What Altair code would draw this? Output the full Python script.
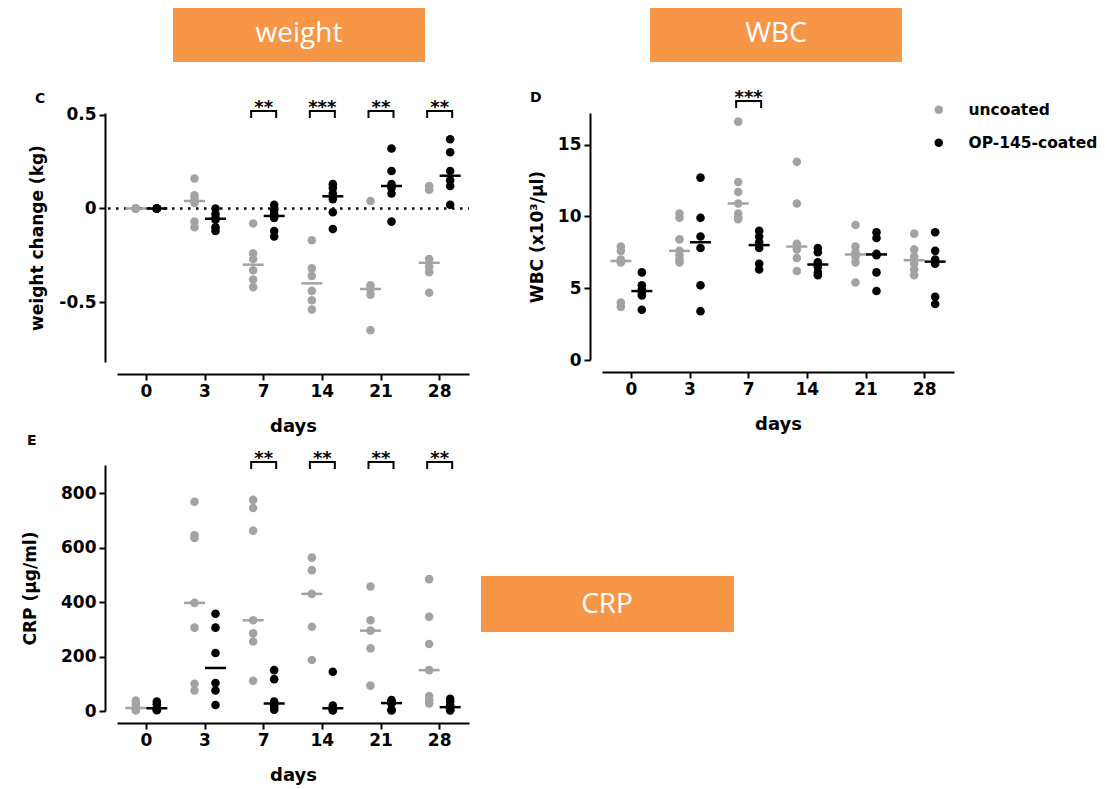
import altair as alt
import pandas as pd

FONT = "DejaVu Sans"
BOX_FONT = "Open Sans"

days = ["0", "3", "7", "14", "21", "28"]
groups = ["uncoated", "OP-145-coated"]
group_colors = ["#a3a3a3", "#000000"]
box_labels = ["weight", "WBC", "CRP"]
panel_letters = ["C", "D", "E"]

weight_uncoated = [
    [0, 0, 0, 0, 0, 0],
    [0.16, 0.07, 0.05, 0.03, -0.07, -0.10],
    [-0.08, -0.24, -0.27, -0.33, -0.38, -0.42],
    [-0.17, -0.32, -0.36, -0.44, -0.49, -0.54],
    [0.04, -0.41, -0.43, -0.46, -0.65],
    [0.12, 0.10, -0.27, -0.31, -0.34, -0.45],
]
weight_coated = [
    [0, 0, 0, 0, 0, 0],
    [0.0, -0.03, -0.05, -0.06, -0.10, -0.12],
    [0.02, -0.01, -0.03, -0.05, -0.12, -0.15],
    [0.13, 0.11, 0.08, 0.05, -0.02, -0.11],
    [0.32, 0.20, 0.13, 0.11, 0.08, -0.07],
    [0.37, 0.30, 0.20, 0.15, 0.12, 0.02],
]
wbc_uncoated = [
    [7.9, 7.6, 7.0, 6.8, 4.0, 3.7],
    [10.2, 9.9, 8.4, 7.6, 7.3, 7.0, 6.8],
    [16.6, 12.4, 11.7, 10.9, 10.2, 9.9, 9.8],
    [13.8, 10.9, 8.1, 7.7, 7.1, 6.2],
    [9.4, 7.9, 7.5, 7.2, 6.8, 5.4],
    [8.8, 7.7, 7.2, 6.7, 6.3, 5.9],
]
wbc_coated = [
    [6.1, 5.2, 4.9, 4.7, 4.5, 3.5],
    [12.7, 9.9, 8.6, 7.8, 5.2, 3.4],
    [9.0, 8.6, 8.2, 7.8, 6.7, 6.3],
    [7.8, 7.5, 6.8, 6.5, 6.1, 5.9],
    [8.9, 8.5, 7.4, 7.3, 6.1, 4.8],
    [8.9, 7.6, 7.0, 6.7, 4.4, 3.9],
]
crp_uncoated = [
    [38, 25, 12, 10, 5, 2],
    [768, 645, 635, 397, 306, 100, 75],
    [775, 745, 662, 333, 285, 255, 111],
    [563, 517, 430, 309, 187],
    [457, 333, 295, 230, 93],
    [484, 346, 246, 150, 55, 40, 28],
]
crp_coated = [
    [35, 25, 12, 8, 5, 3],
    [357, 306, 213, 103, 75, 22],
    [150, 117, 35, 20, 12, 5],
    [144, 20, 12, 8, 5, 2],
    [40, 35, 30, 28, 5, 2],
    [45, 35, 20, 8, 5, 2],
]

weight_sig_days = ["7", "14", "21", "28"]
weight_sig_stars = ["**", "***", "**", "**"]
wbc_sig_days = ["7"]
wbc_sig_stars = ["***"]
crp_sig_days = ["7", "14", "21", "28"]
crp_sig_stars = ["**", "**", "**", "**"]


def long_df(unc, coat):
    rows = []
    for grp, series in zip(groups, [unc, coat]):
        for d, vals in zip(days, series):
            for v in vals:
                rows.append({"day": d, "group": grp, "value": v})
    return pd.DataFrame(rows)


PW = 352
OFF = 10.5


def panel(df, height, ydomain, yvalues, ytitle, title_pad, label_expr, sig_days, sig_stars,
          bracket_y, star_y, letter, letter_xy, box, legend, zero_line=False):
    xenc = alt.X(
        "day:N", sort=days,
        scale=alt.Scale(domain=days, paddingInner=0, paddingOuter=0),
        axis=alt.Axis(title="days", labelAngle=0, offset=12, tickSize=6, tickWidth=2,
                      domainWidth=2, domainColor="black", tickColor="black",
                      labelFont=FONT, labelFontSize=17, labelFontWeight="bold",
                      labelColor="black", labelPadding=3, titleFont=FONT,
                      titleFontSize=18, titleFontWeight="bold", titleColor="black",
                      titlePadding=18, grid=False),
    )
    yscale = alt.Scale(domain=ydomain, nice=False, zero=False)
    yaxis = alt.Axis(title=ytitle, values=yvalues, labelExpr=label_expr, offset=12,
                     tickSize=6, tickWidth=2, domainWidth=2, domainColor="black",
                     tickColor="black", labelFont=FONT, labelFontSize=17,
                     labelFontWeight="bold", labelColor="black", labelPadding=3,
                     titleFont=FONT, titleFontSize=17, titleFontWeight="bold",
                     titleColor="black", titlePadding=title_pad, grid=False)
    yenc = alt.Y("value:Q", scale=yscale, axis=yaxis)
    yenc_med = alt.Y("median(value):Q", scale=yscale, axis=yaxis)
    cenc = alt.Color("group:N", scale=alt.Scale(domain=groups, range=group_colors),
                     legend=legend)

    layers = []
    bx0, bx1, by0, by1, tx, ty, blabel = box
    box_df = pd.DataFrame({"label": [blabel]})
    layers.append(alt.Chart(box_df).mark_rect(color="#F79646").encode(
        x=alt.value(bx0), x2=alt.value(bx1), y=alt.value(by0), y2=alt.value(by1)))
    layers.append(alt.Chart(box_df).mark_text(
        font=BOX_FONT, fontSize=28, color="white", baseline="middle", align="center").encode(
        x=alt.value(tx), y=alt.value(ty), text="label:N"))

    if zero_line:
        layers.append(alt.Chart(pd.DataFrame({"z": [0]})).mark_rule(
            strokeDash=[2.5, 5.5], strokeWidth=2.5, color="black").encode(
            y=alt.datum(0), x=alt.value(-9), x2=alt.value(PW)))

    for grp, off, col in zip(groups, [-OFF, OFF], group_colors):
        layers.append(alt.Chart(df).transform_filter(alt.datum.group == grp).mark_circle(
            size=74, opacity=1, xOffset=off).encode(x=xenc, y=yenc, color=cenc))
    for grp, off, col in zip(groups, [-OFF, OFF], group_colors):
        layers.append(alt.Chart(df).transform_filter(alt.datum.group == grp).mark_tick(
            orient="horizontal", size=21, thickness=2.5, xOffset=off, color=col, opacity=1).encode(
            x=xenc, y=yenc_med))

    sig = pd.DataFrame({"day": sig_days, "stars": sig_stars})
    layers.append(alt.Chart(sig).mark_tick(
        orient="horizontal", size=26, thickness=2, color="black", opacity=1).encode(
        x=xenc, y=alt.value(bracket_y)))
    for off in [-12.5, 12.5]:
        layers.append(alt.Chart(sig).mark_rule(strokeWidth=2, color="black", xOffset=off).encode(
            x=xenc, y=alt.value(bracket_y - 1), y2=alt.value(bracket_y + 7)))
    layers.append(alt.Chart(sig).mark_text(
        font=FONT, fontSize=18, fontWeight="bold", color="black", baseline="alphabetic",
        align="center").encode(x=xenc, y=alt.value(star_y), text="stars:N"))

    let_df = pd.DataFrame({"letter": [letter]})
    layers.append(alt.Chart(let_df).mark_text(
        font=FONT, fontSize=14, fontWeight="bold", color="black", baseline="alphabetic",
        align="left").encode(x=alt.value(letter_xy[0]), y=alt.value(letter_xy[1]), text="letter:N"))

    return alt.layer(*layers).properties(width=PW, height=height)


legend_d = alt.Legend(orient="none", legendX=329, legendY=-11, title=None,
                      symbolType="circle", symbolSize=72, symbolStrokeWidth=0,
                      labelFont=FONT, labelFontSize=15.5, labelFontWeight="bold",
                      labelColor="black", rowPadding=16, labelOffset=22, padding=0)

c_expr = "datum.value < 0 ? '-' + format(-datum.value, '.1f') : (datum.value == 0 ? '0' : format(datum.value, '.1f'))"
int_expr = "format(datum.value, 'd')"

panel_c = panel(long_df(weight_uncoated, weight_coated), 249, [-0.82, 0.51], [-0.5, 0, 0.5],
                "weight change (kg)", 12, c_expr, weight_sig_days, weight_sig_stars,
                -2, 0, panel_letters[0], (-82, -10),
                (56, 308, -105, -51, 182, -79, box_labels[0]), None, zero_line=True)
panel_d = panel(long_df(wbc_uncoated, wbc_coated), 247, [0, 17.2], [0, 5, 10, 15],
                "WBC (x10³/μl)", 11, int_expr, wbc_sig_days, wbc_sig_stars,
                -12, -10, panel_letters[1], (-72, -11),
                (48, 300, -105, -51, 174, -79, box_labels[1]), legend_d)
panel_e = panel(long_df(crp_uncoated, crp_coated), 246, [0, 903], [0, 200, 400, 600, 800],
                "CRP (μg/ml)", 21, int_expr, crp_sig_days, crp_sig_stars,
                -3, -1, panel_letters[2], (-90, -20),
                (364, 617, 111, 167, 490, 140, box_labels[2]), None)

chart = alt.concat(panel_c, panel_d, panel_e, columns=2, bounds="flush",
                   spacing={"row": 103, "column": 133}).resolve_scale(color="independent")
chart = chart.properties(
    padding={"left": 13, "top": 0, "right": 5, "bottom": 5},
    background="white",
).configure_view(strokeWidth=0)

chart.save("out.html", embed_options={"renderer": "svg", "actions": False})
